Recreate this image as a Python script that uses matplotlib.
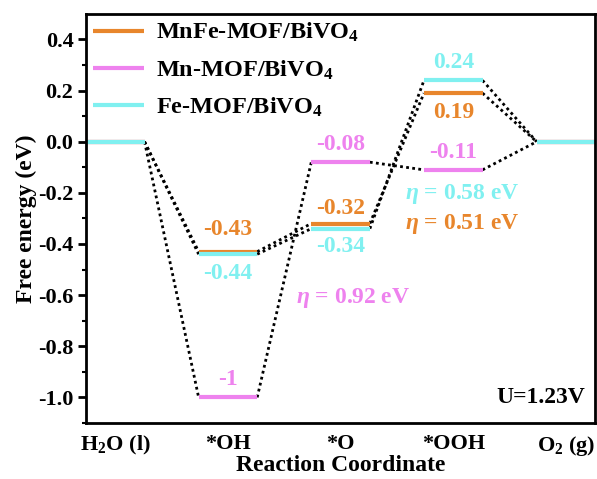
import matplotlib.pyplot as plt
import numpy as np

# Reaction steps and free energies (eV)
steps = ['H$_2$O (l)', '*OH', '*O', '*OOH', 'O$_2$ (g)']
mnfe = [0, -0.43, -0.32, 0.19, 0]
mn = [0, -1, -0.08, -0.11, 0]
fe = [0, -0.44, -0.34, 0.24, 0]
names = ['MnFe-MOF/BiVO$_4$', 'Mn-MOF/BiVO$_4$', 'Fe-MOF/BiVO$_4$']
colors = ['#E8862C', '#EE82EE', '#80F0F0']
yticks = [-1.0, -0.8, -0.6, -0.4, -0.2, 0.0, 0.2, 0.4]

plt.rcParams['font.family'] = ['Liberation Serif', 'DejaVu Serif']
plt.rcParams['font.weight'] = 'bold'
plt.rcParams['axes.unicode_minus'] = False
plt.rcParams['mathtext.fontset'] = 'custom'
plt.rcParams['mathtext.rm'] = 'Liberation Serif:bold'
plt.rcParams['mathtext.it'] = 'Liberation Serif:italic:bold'

fig = plt.figure(figsize=(5.97, 4.79), dpi=100)
ax = fig.add_axes([0.144, 0.117, 0.853, 0.854])

hw = 0.26  # half width of each level
xs = np.arange(len(steps))

# dotted connectors first, then levels on top
for vals in [mnfe, mn, fe]:
    for i in range(len(vals) - 1):
        ax.plot([xs[i] + hw, xs[i + 1] - hw], [vals[i], vals[i + 1]],
                ls=(0, (1, 1.2)), color='black', lw=2, zorder=1)

for vals, c, n in zip([mn, mnfe, fe], [colors[1], colors[0], colors[2]], [names[1], names[0], names[2]]):
    for i, v in enumerate(vals):
        ax.plot([xs[i] - hw, xs[i] + hw], [v, v], color=c, lw=3, zorder=2,
                solid_capstyle='butt', label=n if i == 0 else None)

# value labels
fs = 17
ax.text(1, -0.345, '-0.43', color=colors[0], ha='center', va='center', fontsize=fs)
ax.text(1, -0.515, '-0.44', color=colors[2], ha='center', va='center', fontsize=fs)
ax.text(1, -0.93, '-1', color=colors[1], ha='center', va='center', fontsize=fs)
ax.text(2, -0.012, '-0.08', color=colors[1], ha='center', va='center', fontsize=fs)
ax.text(2, -0.26, '-0.32', color=colors[0], ha='center', va='center', fontsize=fs)
ax.text(2, -0.41, '-0.34', color=colors[2], ha='center', va='center', fontsize=fs)
ax.text(3, 0.31, '0.24', color=colors[2], ha='center', va='center', fontsize=fs)
ax.text(3, 0.114, '0.19', color=colors[0], ha='center', va='center', fontsize=fs)
ax.text(3, -0.043, '-0.11', color=colors[1], ha='center', va='center', fontsize=fs)

ax.text(2.57, -0.205, r'$\eta$ = 0.58 eV', color=colors[2], ha='left', va='center', fontsize=fs)
ax.text(2.57, -0.322, r'$\eta$ = 0.51 eV', color=colors[0], ha='left', va='center', fontsize=fs)
ax.text(1.60, -0.61, r'$\eta$ = 0.92 eV', color=colors[1], ha='left', va='center', fontsize=fs)
ax.text(4.17, -1.0, 'U=1.23V', color='black', ha='right', va='center', fontsize=17)

ax.set_xlim(-hw, 4 + hw)
ax.set_ylim(-1.1, 0.5)
ax.set_yticks(yticks)
ax.set_yticklabels([f'{t:.1f}' for t in yticks])
ax.set_yticks(np.round(np.arange(-1.1, 0.5, 0.1), 2), minor=True)
ax.set_xticks(xs)
ax.set_xticklabels(steps)
ax.tick_params(axis='x', length=0, labelsize=16, pad=8)
ax.tick_params(axis='y', which='major', direction='out', length=6, width=2, labelsize=16, pad=3)
ax.tick_params(axis='y', which='minor', direction='out', length=3, width=1.5)
for s in ax.spines.values():
    s.set_linewidth(2)

ax.set_ylabel('Free energy (eV)', fontsize=17, fontweight='bold', labelpad=1)
ax.set_xlabel('Reaction Coordinate', fontsize=17, fontweight='bold', labelpad=-2)

h, l = ax.get_legend_handles_labels()
order = [1, 0, 2]
ax.legend([h[i] for i in order], [l[i] for i in order], loc='upper left', frameon=False,
          fontsize=17.5, handlelength=2.1, handletextpad=0.5, borderaxespad=0.2,
          borderpad=0.1, labelspacing=0.58)

fig.savefig('out.png', dpi=100)
